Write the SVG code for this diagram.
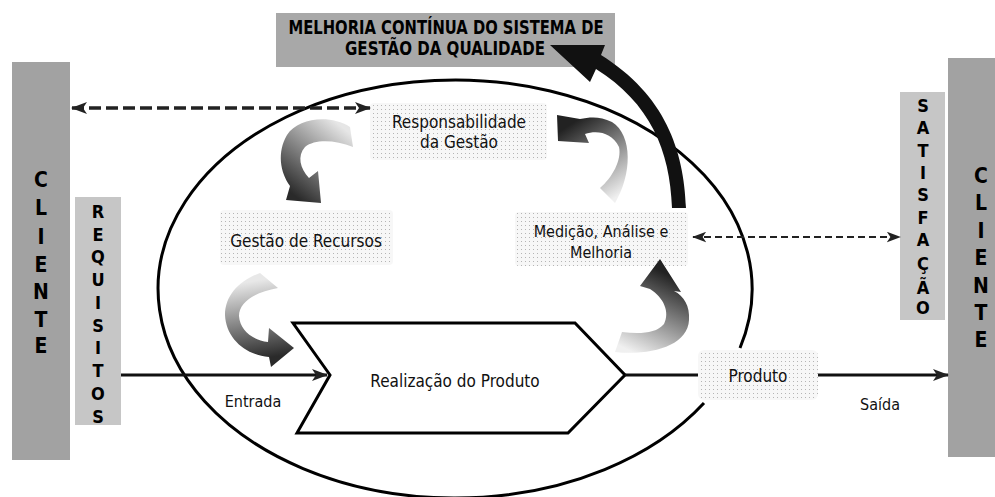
<svg xmlns="http://www.w3.org/2000/svg" width="995" height="497" viewBox="0 0 995 497">
<style>
.lbl{font-family:"DejaVu Sans Condensed","DejaVu Sans",sans-serif;font-size:17px;fill:#111;text-anchor:middle}
.vt{font-family:"DejaVu Sans Condensed","DejaVu Sans",sans-serif;font-weight:bold;fill:#000;text-anchor:middle}
.big{font-size:21px}
.small{font-size:18px}
.ttl{font-family:"DejaVu Sans Condensed","DejaVu Sans",sans-serif;font-weight:bold;font-size:19px;fill:#000;text-anchor:middle}
.solid{fill:none;stroke:#111;stroke-width:3}
.dash1{fill:none;stroke:#222;stroke-width:3.5;stroke-dasharray:12 5}
.dash2{fill:none;stroke:#222;stroke-width:2;stroke-dasharray:7 4}
.node{fill:url(#dots)}
</style>
<defs>
<pattern id="dots" width="4" height="4" patternUnits="userSpaceOnUse">
<rect width="4" height="4" fill="#f7f7f7"/>
<rect x="1" y="1" width="1" height="1" fill="#b5b5b5"/>
</pattern>
<marker id="ah" viewBox="0 0 16 12" refX="15" refY="6" markerWidth="16" markerHeight="12" markerUnits="userSpaceOnUse" orient="auto-start-reverse">
<path d="M0,0 L16,6 L0,12 L4,6 Z" fill="#222"/>
</marker>
<marker id="ah2" viewBox="0 0 16 12" refX="15" refY="6" markerWidth="14" markerHeight="11" markerUnits="userSpaceOnUse" orient="auto-start-reverse">
<path d="M0,0 L16,6 L0,12 L4,6 Z" fill="#222"/>
</marker>
<linearGradient id="g1" gradientUnits="userSpaceOnUse" x1="352" y1="135" x2="300" y2="200">
<stop offset="0" stop-color="#e6e6e6"/><stop offset="1" stop-color="#2a2a2a"/>
</linearGradient>
<linearGradient id="g2" gradientUnits="userSpaceOnUse" x1="612" y1="200" x2="565" y2="128">
<stop offset="0" stop-color="#f0f0f0"/><stop offset="1" stop-color="#222"/>
</linearGradient>
<linearGradient id="g3" gradientUnits="userSpaceOnUse" x1="272" y1="278" x2="285" y2="355">
<stop offset="0" stop-color="#e8e8e8"/><stop offset="1" stop-color="#2a2a2a"/>
</linearGradient>
<linearGradient id="g4" gradientUnits="userSpaceOnUse" x1="618" y1="345" x2="655" y2="268">
<stop offset="0" stop-color="#f0f0f0"/><stop offset="1" stop-color="#222"/>
</linearGradient>
</defs>

<g id="ellipse-system">
<path d="M704,403 A297,209 0 1 1 740,348" fill="none" stroke="#000" stroke-width="3"/>
</g>

<g id="cliente-left">
<rect x="12" y="62" width="58" height="398" fill="#a2a2a2"/>
<text class="vt big" x="41" y="187">C</text>
<text class="vt big" x="41" y="215">L</text>
<text class="vt big" x="41" y="244">I</text>
<text class="vt big" x="41" y="272">E</text>
<text class="vt big" x="41" y="299">N</text>
<text class="vt big" x="41" y="327">T</text>
<text class="vt big" x="41" y="353">E</text>
</g>

<g id="requisitos">
<rect x="75" y="197" width="46" height="228" fill="#c6c6c6"/>
<text class="vt small" x="98" y="218">R</text>
<text class="vt small" x="98" y="241">E</text>
<text class="vt small" x="98" y="263">Q</text>
<text class="vt small" x="98" y="286">U</text>
<text class="vt small" x="98" y="309">I</text>
<text class="vt small" x="98" y="332">S</text>
<text class="vt small" x="98" y="354">I</text>
<text class="vt small" x="98" y="377">T</text>
<text class="vt small" x="98" y="400">O</text>
<text class="vt small" x="98" y="423">S</text>
</g>

<g id="satisfacao">
<rect x="900" y="92" width="45" height="228" fill="#c6c6c6"/>
<text class="vt small" x="923" y="112">S</text>
<text class="vt small" x="923" y="134">A</text>
<text class="vt small" x="923" y="157">T</text>
<text class="vt small" x="923" y="179">I</text>
<text class="vt small" x="923" y="201">S</text>
<text class="vt small" x="923" y="224">F</text>
<text class="vt small" x="923" y="246">A</text>
<text class="vt small" x="923" y="270">Ç</text>
<text class="vt small" x="923" y="294">Ã</text>
<text class="vt small" x="923" y="314">O</text>
</g>

<g id="cliente-right">
<rect x="948" y="58" width="47" height="399" fill="#a2a2a2"/>
<text class="vt big" x="981" y="183">C</text>
<text class="vt big" x="981" y="210">L</text>
<text class="vt big" x="981" y="238">I</text>
<text class="vt big" x="981" y="265">E</text>
<text class="vt big" x="981" y="293">N</text>
<text class="vt big" x="981" y="320">T</text>
<text class="vt big" x="981" y="347">E</text>
</g>

<g id="titulo">
<rect x="276" y="13" width="339" height="54" fill="#a8a8a8"/>
<text class="ttl" x="446" y="34" textLength="315" lengthAdjust="spacingAndGlyphs">MELHORIA CONTÍNUA DO SISTEMA DE</text>
<text class="ttl" x="445" y="55" textLength="200" lengthAdjust="spacingAndGlyphs">GESTÃO DA QUALIDADE</text>
</g>

<g id="responsabilidade">
<rect class="node" x="370" y="103" width="177" height="57" rx="4"/>
<text class="lbl" x="459" y="128">Responsabilidade</text>
<text class="lbl" x="459" y="148">da Gestão</text>
</g>

<g id="gestao-recursos">
<rect class="node" x="220" y="210" width="173" height="55" rx="4"/>
<text class="lbl" x="306" y="247">Gestão de Recursos</text>
</g>

<g id="medicao">
<rect class="node" x="515" y="212" width="173" height="54" rx="4"/>
<text class="lbl" x="601" y="237" style="font-size:16px">Medição, Análise e</text>
<text class="lbl" x="601" y="258" style="font-size:16px">Melhoria</text>
</g>

<g id="realizacao">
<polygon points="293,323 575,323 625,375 568,433 297,433 330,375" fill="#fff" stroke="#000" stroke-width="3" stroke-linejoin="miter"/>
<text class="lbl" x="455" y="387">Realização do Produto</text>
</g>

<g id="produto">
<rect class="node" x="698" y="350" width="120" height="50" rx="6"/>
<text class="lbl" x="758" y="382">Produto</text>
</g>

<g id="connectors">
<path class="dash1" d="M72,108 L370,108" marker-start="url(#ah)" marker-end="url(#ah)"/>
<path class="dash2" d="M693,237 L900,237" marker-start="url(#ah2)" marker-end="url(#ah2)"/>
<path class="solid" d="M121,375 L327,375" marker-end="url(#ah)"/>
<path class="solid" d="M625,375 L698,375"/>
<path class="solid" d="M818,375 L948,375" marker-end="url(#ah)"/>
<text class="lbl" x="253" y="407" style="font-size:16px">Entrada</text>
<text class="lbl" x="880" y="410" style="font-size:16px">Saída</text>
<path id="seta-resp-gestao" d="M350,127 C330,114 298,118 287,135 C277,152 280,172 290,186 L286,200 L321,203 L318,171 L309,178 C300,168 297,156 305,147 C315,139 335,140 353,147 Z" fill="url(#g1)"/>
<path id="seta-medicao-resp" d="M615,203 C632,175 633,135 612,122 C600,116 590,117 580,119 L557,115 L558,141 L589,143 L585,134 C598,130 612,133 619,147 C622,160 612,178 600,188 Z" fill="url(#g2)"/>
<path id="seta-gestao-realizacao" d="M260,273 C240,280 225,295 225,315 C226,338 245,355 269,357 L271,367 L294,348 L269,328 L268,342 C252,340 240,330 239,316 C239,302 255,292 278,288 Z" fill="url(#g3)"/>
<path id="seta-realizacao-medicao" d="M615,352 C650,356 688,346 689,320 C690,306 684,296 674,291 L681,292 L660,259 L640,286 L650,289 C664,298 670,312 664,324 C656,334 638,334 622,332 Z" fill="url(#g4)"/>
<path id="seta-melhoria" d="M686,208 C684,150 665,95 601,55 L605,45 L550,45 L590,82 L596,69 C650,103 670,150 672,208 Z" fill="#111"/>
</g>
</svg>
